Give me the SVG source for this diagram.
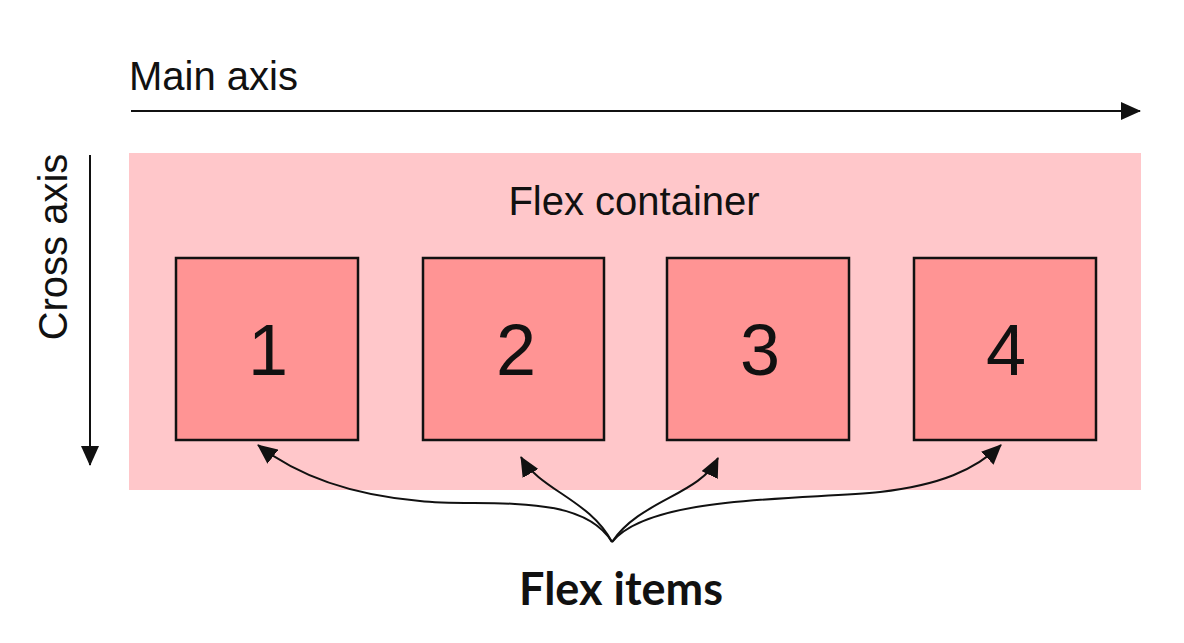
<svg xmlns="http://www.w3.org/2000/svg" width="1184" height="643" viewBox="0 0 1184 643">
<defs>
<marker id="ah2" viewBox="0 0 20 18" refX="19" refY="9" markerWidth="20" markerHeight="18" orient="auto" markerUnits="userSpaceOnUse">
<path d="M0,0 L20,9 L0,18 Z" fill="#111"/>
</marker>
</defs>
<style>
.t{font-family:"Liberation Sans",Arial,sans-serif;fill:#111}
.box rect{fill:#ff9494;stroke:#111;stroke-width:2.5}
.num{font-family:"Liberation Sans",Arial,sans-serif;font-size:72px;fill:#111;text-anchor:middle}
.c path{fill:none;stroke:#111;stroke-width:2}
</style>
<rect width="1184" height="643" fill="#fff"/>
<g id="container">
<rect x="129" y="153" width="1012" height="337" fill="#ffc7ca"/>
<text class="t" x="634" y="215" font-size="40" text-anchor="middle">Flex container</text>
</g>
<g id="main-axis">
<text class="t" x="129" y="90" font-size="40">Main axis</text>
</g>
<g id="cross-axis">
<text class="t" transform="translate(67,247) rotate(-90)" font-size="40" text-anchor="middle">Cross axis</text>
</g>
<g id="item1" class="box"><rect x="176" y="258" width="182" height="182"/><text class="num" x="268" y="375">1</text></g>
<g id="item2" class="box"><rect x="423" y="258" width="181" height="182"/><text class="num" x="516" y="375">2</text></g>
<g id="item3" class="box"><rect x="667" y="258" width="182" height="182"/><text class="num" x="760" y="375">3</text></g>
<g id="item4" class="box"><rect x="914" y="258" width="182" height="182"/><text class="num" x="1006" y="375">4</text></g>
<g id="label">
<text x="621" y="605" font-family="Lato,'Open Sans',sans-serif" font-weight="bold" font-size="45" fill="#111" text-anchor="middle">Flex items</text>
</g>
<g id="connectors" class="c">
<path d="M131,111 L1140,111" marker-end="url(#ah2)"/>
<path d="M90,155 L90,465" marker-end="url(#ah2)"/>
<path d="M612,542 C580,490 480,508 420,501 C340,494 290,470 258,445" marker-end="url(#ah2)"/>
<path d="M612,542 C590,500 540,490 521,457" marker-end="url(#ah2)"/>
<path d="M612,542 C640,500 700,495 718,458" marker-end="url(#ah2)"/>
<path d="M612,542 C650,495 800,500 880,492 C940,485 975,470 1001,445" marker-end="url(#ah2)"/>
</g>
</svg>
